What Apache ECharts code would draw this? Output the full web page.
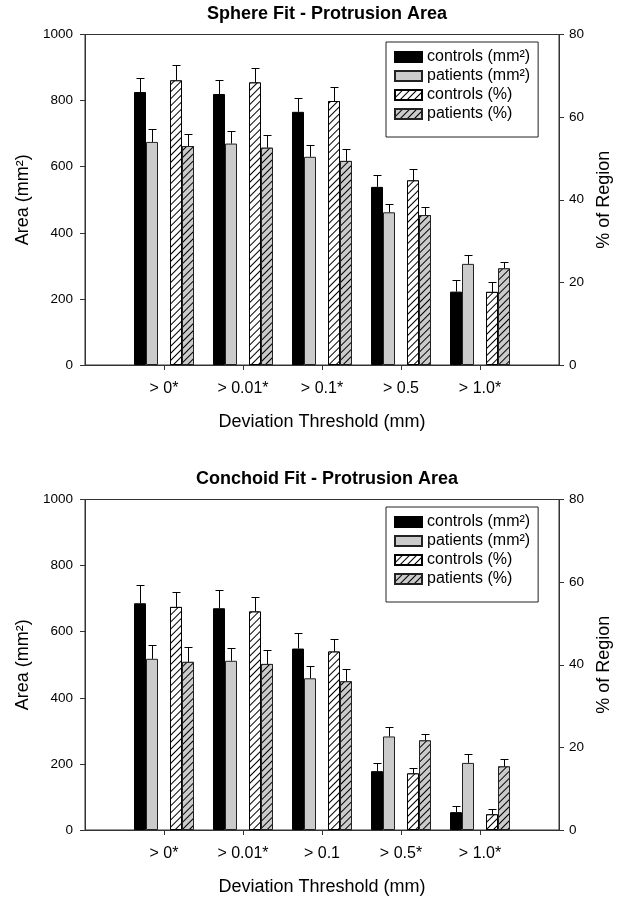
<!DOCTYPE html>
<html><head><meta charset="utf-8">
<script src="https://cdn.jsdelivr.net/npm/echarts@6/dist/echarts.min.js"></script>
<style>html,body{margin:0;padding:0;background:#fff}#c{width:624px;height:905px}</style>
</head><body><div id="c"></div>
<script>
// ---- data ----
const categoriesSphere = ['> 0*', '> 0.01*', '> 0.1*', '> 0.5', '> 1.0*'];
const categoriesConchoid = ['> 0*', '> 0.01*', '> 0.1', '> 0.5*', '> 1.0*'];
const seriesNames = ['controls (mm²)', 'patients (mm²)', 'controls (%)', 'patients (%)'];

const sphereControlsMm = [826, 820, 766, 539, 222];
const sphereControlsMmErr = [43, 41, 42, 35, 35];
const spherePatientsMm = [675, 670, 630, 462, 306];
const spherePatientsMmErr = [38, 39, 37, 26, 27];
const sphereControlsPct = [68.9, 68.4, 63.9, 44.7, 17.7];
const sphereControlsPctErr = [3.6, 3.6, 3.5, 2.8, 2.5];
const spherePatientsPct = [53.0, 52.6, 49.4, 36.3, 23.4];
const spherePatientsPctErr = [3.0, 3.0, 3.0, 2.0, 1.5];

const conchoidControlsMm = [686, 671, 549, 178, 54];
const conchoidControlsMmErr = [56, 55, 48, 25, 20];
const conchoidPatientsMm = [518, 512, 459, 283, 203];
const conchoidPatientsMmErr = [41, 40, 37, 28, 28];
const conchoidControlsPct = [54.0, 52.9, 43.2, 13.7, 3.8];
const conchoidControlsPctErr = [3.5, 3.5, 3.1, 1.4, 1.4];
const conchoidPatientsPct = [40.7, 40.2, 36.0, 21.7, 15.4];
const conchoidPatientsPctErr = [3.5, 3.4, 3.0, 1.6, 1.7];

const areaTicks = {min: 0, max: 1000, interval: 200};
const pctTicks = {min: 0, max: 80, interval: 20};

// ---- styles ----
const FONT = 'Liberation Sans, Arial, sans-serif';
const BAR_W = 12;
const GRAY = '#cbcbcb';
const AXIS_C = '#333';
const hatch = (bg) => ({
  symbol: 'rect', symbolSize: 1, dashArrayX: [1, 0], dashArrayY: [1, 4],
  rotation: -Math.PI / 4, color: '#000', backgroundColor: bg
});
const styles = [
  {color: '#000', borderColor: '#000', borderWidth: 1},
  {color: GRAY, borderColor: '#222', borderWidth: 1},
  {color: '#fff', borderColor: '#000', borderWidth: 1, decal: hatch('#fff')},
  {color: GRAY, borderColor: '#222', borderWidth: 1, decal: hatch(GRAY)}
];
const slots = [-2, -1, 1, 2];

const grids = [
  {left: 85, top: 34.5, width: 474, height: 330.5},
  {left: 85, top: 499.5, width: 474, height: 330.5}
];
const titles = ['Sphere Fit - Protrusion Area', 'Conchoid Fit - Protrusion Area'];
const titleTops = [0, 465];
const legendTops = [42, 507];
const cats = [categoriesSphere, categoriesConchoid];
const vals = [
  [sphereControlsMm, spherePatientsMm, sphereControlsPct, spherePatientsPct],
  [conchoidControlsMm, conchoidPatientsMm, conchoidControlsPct, conchoidPatientsPct]
];
const errs = [
  [sphereControlsMmErr, spherePatientsMmErr, sphereControlsPctErr, spherePatientsPctErr],
  [conchoidControlsMmErr, conchoidPatientsMmErr, conchoidControlsPctErr, conchoidPatientsPctErr]
];

const pad = (arr) => [null].concat(arr, [null]);

const option = {
  animation: false,
  backgroundColor: '#fff',
  textStyle: {fontFamily: FONT, color: '#000'},
  title: titles.map((t, i) => ({
    text: t, left: 322, textAlign: 'center', top: titleTops[i],
    textStyle: {fontFamily: FONT, fontSize: 18, fontWeight: 'bold', color: '#000'}
  })),
  legend: legendTops.map((top) => ({
    data: seriesNames.map(n => ({name: n, icon: 'rect'})), orient: 'vertical', left: 386, top: top,
    itemWidth: 27, itemHeight: 10, itemGap: 3,
    padding: [7, 8, 15, 8],
    borderColor: '#222', borderWidth: 1, backgroundColor: '#fff',
    selectedMode: false,
    textStyle: {fontFamily: FONT, fontSize: 16, color: '#000'}
  })),
  grid: grids.map(g => Object.assign({show: true, borderColor: AXIS_C, borderWidth: 1, backgroundColor: 'transparent'}, g)),
  xAxis: [0, 1].map(i => ({
    type: 'category', gridIndex: i, boundaryGap: false,
    data: [''].concat(cats[i], ['']),
    axisLine: {lineStyle: {color: AXIS_C, width: 1}},
    axisTick: {inside: false, length: 5, lineStyle: {color: AXIS_C}, interval: (idx) => idx > 0 && idx < 6},
    axisLabel: {interval: 0, margin: 16, fontSize: 16, fontFamily: FONT, color: '#000'},
    name: 'Deviation Threshold (mm)', nameLocation: 'middle', nameGap: 48,
    nameTextStyle: {fontSize: 18, fontFamily: FONT, color: '#000'},
    splitLine: {show: false}
  })),
  yAxis: [0, 1].flatMap(i => [
    Object.assign({
      type: 'value', gridIndex: i, position: 'left',
      name: 'Area (mm²)', nameLocation: 'middle', nameGap: 51, nameRotate: 90,
      nameTextStyle: {fontSize: 18, fontFamily: FONT, color: '#000'},
      axisLine: {show: true, lineStyle: {color: AXIS_C}},
      axisTick: {show: true, length: 5, lineStyle: {color: AXIS_C}},
      axisLabel: {fontSize: 13.5, fontFamily: FONT, color: '#000', margin: 12, formatter: (v) => String(v)},
      splitLine: {show: false}
    }, areaTicks),
    Object.assign({
      type: 'value', gridIndex: i, position: 'right',
      name: '% of Region', nameLocation: 'middle', nameGap: 32, nameRotate: 90,
      nameTextStyle: {fontSize: 18, fontFamily: FONT, color: '#000'},
      axisLine: {show: true, lineStyle: {color: AXIS_C}},
      axisTick: {show: true, length: 5, lineStyle: {color: AXIS_C}},
      axisLabel: {fontSize: 13.5, fontFamily: FONT, color: '#000', margin: 10, formatter: (v) => String(v)},
      splitLine: {show: false}
    }, pctTicks)
  ]),
  series: []
};

function errorRenderer(slot) {
  return function (params, api) {
    const c = api.value(0), v = api.value(1), e = api.value(2);
    const base = api.coord([c, v]);
    const top = api.coord([c, v + e]);
    const cx = Math.round(base[0] + slot * BAR_W) + 0.5;
    const ty = Math.round(top[1]) + 0.5;
    const st = {stroke: '#000', lineWidth: 1};
    return {type: 'group', children: [
      {type: 'line', shape: {x1: cx, y1: base[1], x2: cx, y2: ty}, style: st},
      {type: 'line', shape: {x1: cx - 4, y1: ty, x2: cx + 4, y2: ty}, style: st}
    ]};
  };
}

[0, 1].forEach(g => {
  const xIdx = g, yLeft = g * 2, yRight = g * 2 + 1;
  const barSeries = [0, 1, 2, 3].map(k => ({
    type: 'bar', name: seriesNames[k], xAxisIndex: xIdx, yAxisIndex: k < 2 ? yLeft : yRight,
    data: pad(vals[g][k]), barWidth: BAR_W, barGap: '0%',
    itemStyle: styles[k], z: 2
  }));
  const spacer = {type: 'bar', name: '_spacer', xAxisIndex: xIdx, yAxisIndex: yLeft,
    data: pad([null, null, null, null, null]), barWidth: BAR_W, barGap: '0%'};
  option.series.push(barSeries[0], barSeries[1], spacer, barSeries[2], barSeries[3]);
  [0, 1, 2, 3].forEach(k => {
    option.series.push({
      type: 'custom', name: seriesNames[k] + ' err', xAxisIndex: xIdx, yAxisIndex: k < 2 ? yLeft : yRight,
      renderItem: errorRenderer(slots[k]), encode: {x: 0, y: 1}, z: 3, silent: true,
      data: vals[g][k].map((v, i) => [i + 1, v, errs[g][k][i]])
    });
  });
});

const chart = echarts.init(document.getElementById('c'), null, {renderer: 'canvas'});
chart.setOption(option);
</script></body></html>
